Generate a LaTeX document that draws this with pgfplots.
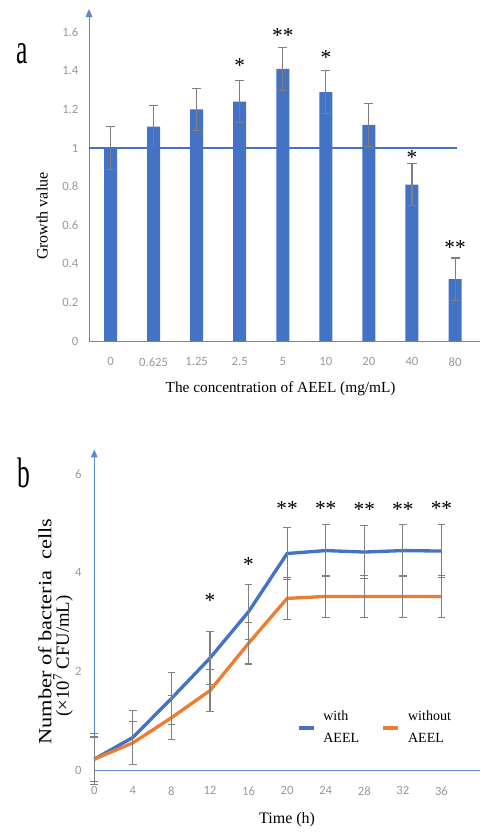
\documentclass[border=0pt]{standalone}
\usepackage{pgfplots}
\pgfplotsset{compat=1.18}
\usepackage{pgfplotstable}
\usepackage{fontspec}
\setmainfont{Liberation Serif}
\newfontfamily\tickfont{Carlito}
\usetikzlibrary{arrows.meta}

\definecolor{xlblue}{HTML}{4472C4}
\definecolor{xlorange}{HTML}{ED7D31}
\definecolor{axblue}{HTML}{5B86D0}
\definecolor{errgray}{HTML}{7F7F7F}
\definecolor{tickgray}{HTML}{999999}

% panel a: growth value per AEEL concentration
\pgfplotstableread{
idx val err
0 1.00 0.11
1 1.11 0.11
2 1.20 0.11
3 1.24 0.11
4 1.41 0.11
5 1.29 0.11
6 1.12 0.11
7 0.81 0.11
8 0.32 0.11
}\growth

% panel b: bacteria counts over time
\pgfplotstableread{
t with werr without woerr
0 0.22 0.52 0.22 0.45
4 0.66 0.54 0.55 0.43
8 1.45 0.53 1.06 0.45
12 2.27 0.53 1.61 0.43
16 3.21 0.56 2.57 0.42
20 4.39 0.52 3.48 0.42
24 4.45 0.53 3.52 0.42
28 4.42 0.53 3.52 0.42
32 4.45 0.53 3.52 0.42
36 4.44 0.53 3.52 0.42
}\bacteria

\pgfplotsset{
  panel/.style={
    scale only axis, axis lines=left, clip=false,
    axis line style={axblue, line width=0.75pt},
    x axis line style={-},
    y axis line style={-{Triangle[length=6pt,width=5pt]}},
    major tick length=0pt,
    tick label style={font=\tickfont\fontsize{9.5}{10}\selectfont, text=tickgray},
    /pgf/number format/assume math mode=true,
    xticklabel style={yshift=-9pt},
  },
}
\tikzset{stars/.style={font=\fontsize{16}{16}\selectfont, inner sep=0pt, yshift=-2pt}}

\begin{document}
\begin{tikzpicture}
\path[use as bounding box] (0,0) rectangle (360pt,-624pt);

\node[font=\fontsize{32}{32}\selectfont, xscale=0.6] at (16.5pt,-40.5pt) {a};
\node[font=\fontsize{32}{32}\selectfont, xscale=0.6] at (17.6pt,-355pt) {b};

\begin{axis}[panel,
    anchor=south west, at={(66.75pt,-255.75pt)},
    width=293.25pt, height=249pt,
    xmin=-0.5, xmax=8.58, ymin=0, ymax=1.72,
    xtick={0,1,2,3,4,5,6,7,8},
    xticklabels={0,0.625,1.25,2.5,5,10,20,40,80},
    ytick={0,0.2,0.4,0.6,0.8,1,1.2,1.4,1.6},
    yticklabel style={xshift=-4.5pt},
    xlabel={The concentration of AEEL (mg/mL)},
    xlabel style={at={(axis description cs:0.49,-0.145)}, anchor=center, font=\fontsize{11.5}{13}\selectfont},
    ylabel={Growth value},
    ylabel style={at={(axis description cs:-0.120,0.376)}, anchor=center, font=\fontsize{12}{14}\selectfont},
]
\addplot[ybar, bar width=9.75pt, bar shift=0pt, fill=xlblue, draw=none,
    error bars/.cd, y dir=both, y explicit,
    error bar style={errgray, line width=0.8pt},
    error mark options={rotate=90, errgray, mark size=3.4pt, line width=0.8pt}]
    table[x=idx, y=val, y error=err] {\growth};
\addplot[xlblue, line width=0.8pt] coordinates {(-0.5,1) (8.04,1)};
\node[stars] at (axis cs:3,1.44) {*};
\node[stars] at (axis cs:4,1.596) {**};
\node[stars] at (axis cs:5,1.48) {*};
\node[stars] at (axis cs:7,0.964) {*};
\node[stars] at (axis cs:8,0.497) {**};
\end{axis}

\begin{axis}[panel,
    anchor=south west, at={(70.7pt,-577.5pt)},
    width=289.3pt, height=240.4pt,
    xmin=0, xmax=40, ymin=0, ymax=6.5,
    xtick={0,4,...,36}, ytick={0,2,4,6},
    yticklabel style={xshift=-6pt},
    xlabel={Time (h)},
    xlabel style={at={(axis description cs:0.5,-0.154)}, anchor=center, font=\fontsize{12}{14}\selectfont},
    ylabel={\scalebox{1.2}[1]{Number of bacteria\ \ cells}},
    ylabel style={at={(axis description cs:-0.128,0.432)}, anchor=center, font=\fontsize{14}{16}\selectfont},
    legend columns=2,
    legend cell align=left,
    legend image code/.code={\draw[#1] (0pt,0pt) -- (11.25pt,0pt);},
    legend style={draw=none, fill=none, at={(axis cs:21,1.20)}, anchor=north west,
        inner sep=0pt, column sep=6pt,
        nodes={inner sep=0pt, align=left, font=\fontsize{10.5}{16.5}\selectfont},
        /tikz/every even column/.append style={column sep=17pt}},
]
\addplot[xlblue, line width=2.5pt,
    error bars/.cd, y dir=both, y explicit,
    error bar style={errgray, line width=0.8pt},
    error mark options={rotate=90, errgray, mark size=2.9pt, line width=0.8pt}]
    table[x=t, y=with, y error=werr] {\bacteria};
\addlegendentry{with\\AEEL}
\addplot[xlorange, line width=2.5pt,
    error bars/.cd, y dir=both, y explicit,
    error bar style={errgray, line width=0.8pt},
    error mark options={rotate=90, errgray, mark size=2.9pt, line width=0.8pt}]
    table[x=t, y=without, y error=woerr] {\bacteria};
\addlegendentry{without\\AEEL}
\node[rotate=90, font=\fontsize{14}{16}\selectfont] at (axis description cs:-0.081,0.356) {(×10\textsuperscript{7} CFU/mL)};
\node[stars] at (axis cs:12,3.49) {*};
\node[stars] at (axis cs:16,4.22) {*};
\node[stars] at (axis cs:20,5.35) {**};
\node[stars] at (axis cs:24,5.35) {**};
\node[stars] at (axis cs:28,5.33) {**};
\node[stars] at (axis cs:32,5.33) {**};
\node[stars] at (axis cs:36,5.35) {**};
\end{axis}
\end{tikzpicture}
\end{document}
